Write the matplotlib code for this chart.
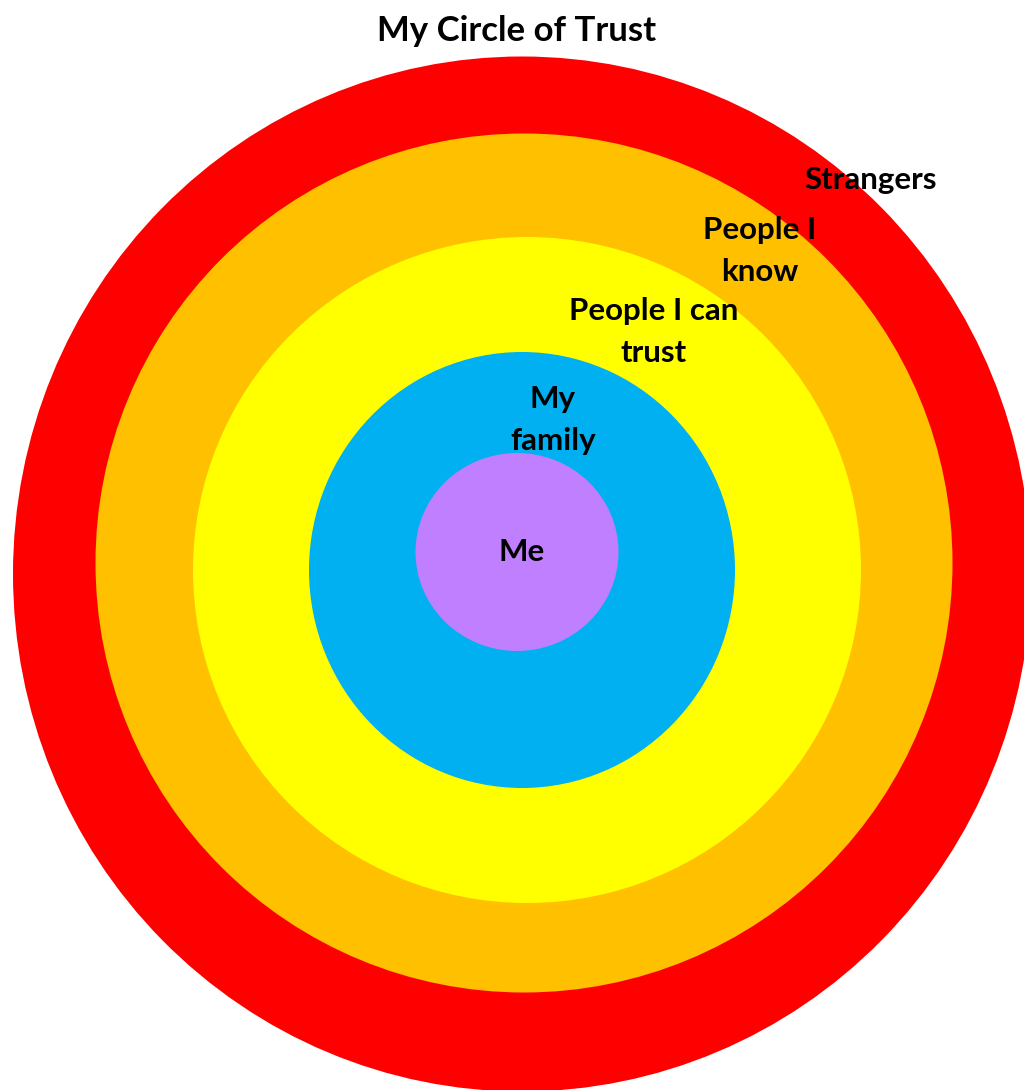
"""Concentric 'My Circle of Trust' diagram."""

import matplotlib.pyplot as plt
from matplotlib.patches import Ellipse

# rings, outermost first
labels = ["Strangers", "People I\nknow", "People I can\ntrust", "My\nfamily", "Me"]
colors = ["#FF0000", "#FFC000", "#FFFF00", "#00B0F0", "#BF7FFF"]
centers = [(522, 574), (524, 563), (527, 570), (522, 570), (517, 552)]
widths = [1018, 857, 668, 426, 203]
heights = [1035, 859, 666, 436, 198]
label_pos = [(871, 180), (760, 251), (654, 332), (553, 420), (522, 552)]

FONT = ["Lato", "DejaVu Sans"]

fig = plt.figure(figsize=(10.24, 10.90), dpi=100)
ax = fig.add_axes([0, 0, 1, 1])
ax.set_xlim(0, 1024)
ax.set_ylim(1090, 0)
ax.set_aspect("equal")
ax.axis("off")

for (cx, cy), w, h, c in zip(centers, widths, heights, colors):
    ax.add_patch(Ellipse((cx, cy), w, h, facecolor=c, edgecolor="none"))

for text, (x, y) in zip(labels, label_pos):
    ax.text(x, y, text, ha="center", va="center", fontsize=22.5,
            fontweight="bold", family=FONT, color="black", linespacing=1.65)

ax.text(517, 31, "My Circle of Trust", ha="center", va="center",
        fontsize=25, fontweight="bold", family=FONT, color="black")

fig.savefig("out.png", dpi=100)
plt.close(fig)
